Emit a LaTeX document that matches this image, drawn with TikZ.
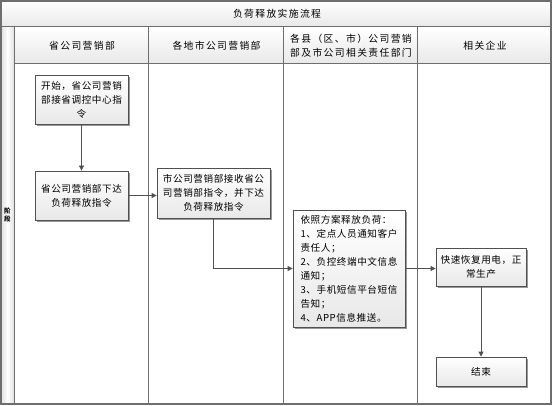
\documentclass[tikz,border=0pt]{standalone}
\usepackage{fontspec}
\setmainfont{Noto Sans CJK SC}
\newfontfamily\boxfont[LetterSpace=6]{Noto Sans CJK SC}
\newfontfamily\hdrfont[LetterSpace=14]{Noto Sans CJK SC}
\usetikzlibrary{shadows,arrows.meta}
\definecolor{frame}{HTML}{6E6E6E}
\definecolor{boxline}{HTML}{505050}
\definecolor{lineclr}{HTML}{505050}
\definecolor{bandbot}{HTML}{E8E8E8}
\begin{document}
\begin{tikzpicture}[x=1pt,y=-1pt,
  stepbox/.style={draw=boxline, line width=0.8pt, top color=white, bottom color=bandbot,
    drop shadow={shadow xshift=1.6pt, shadow yshift=-1.6pt, fill=black!40, opacity=1},
    inner sep=2pt, font=\boxfont\fontsize{9.6}{14}\selectfont, align=center},
  flow/.style={draw=lineclr, line width=0.8pt, -{Triangle[length=5pt,width=5pt]}},
  hdr/.style={font=\hdrfont\fontsize{9.8}{14}\selectfont, align=center},
  grid/.style={draw=frame, line width=1pt}]
\useasboundingbox (0,0) rectangle (554,406);
% bands
\shade[top color=white, bottom color=bandbot] (1,1) rectangle (551,27);
\shade[top color=white, bottom color=bandbot] (14,27) rectangle (551,64);
\shade[left color=black!12, right color=white] (1,27) rectangle (7.5,404);
\shade[left color=white, right color=black!12] (7.5,27) rectangle (14,404);
% grid
\draw[grid] (1,27) -- (551,27);
\draw[grid] (14,64) -- (551,64);
\draw[grid] (14,27) -- (14,404);
\draw[grid] (148,27) -- (148,404);
\draw[grid] (283,27) -- (283,404);
\draw[grid] (417,27) -- (417,404);
\draw[draw=frame, line width=1.8pt] (1,1) rectangle (551,404);
% titles
\node[hdr] (title) at (277,14) {负荷释放实施流程};
\node[hdr] (h1) at (82,45.5) {省公司营销部};
\node[hdr] (h2) at (216.5,45.5) {各地市公司营销部};
\node[hdr] (h3) at (351,45.5) {各县（区、市）公司营销\\部及市公司相关责任部门};
\node[hdr] (h4) at (485,45.5) {相关企业};
\node[font=\bfseries\fontsize{6.5}{7.5}\selectfont, align=center, inner sep=0pt] (lane) at (7.5,215) {阶\\段};
% boxes
\node[stepbox, minimum width=93pt, minimum height=49pt] (b1) at (81.5,99.5) {开始，省公司营销\\部接省调控中心指\\令};
\node[stepbox, minimum width=93pt, minimum height=49pt] (b2) at (81.5,195.5) {省公司营销部下达\\负荷释放指令};
\node[stepbox, minimum width=113pt, minimum height=50pt] (b3) at (213.5,193) {市公司营销部接收省公\\司营销部指令，并下达\\负荷释放指令};
\node[stepbox, minimum width=112pt, minimum height=117pt, align=left, inner sep=1pt] (b4) at (349,268.5) {依照方案释放负荷：\\1、定点人员通知客户\\责任人；\\2、负控终端中文信息\\通知；\\3、手机短信平台短信\\告知；\\4、APP信息推送。};
\node[stepbox, minimum width=90pt, minimum height=38pt] (b5) at (481,267) {快速恢复用电，正\\常生产};
\node[stepbox, minimum width=90pt, minimum height=29pt] (b6) at (481,371.5) {结束};
% connectors
\draw[flow] (b1) -- (b2);
\draw[flow] (b2.east) -- (b2.east -| b3.west);
\draw[flow] (b3.south) |- (b4.west);
\draw[flow] (b4.east) -- (b4.east -| b5.west);
\draw[flow] (b5) -- (b6);
\end{tikzpicture}
\end{document}
